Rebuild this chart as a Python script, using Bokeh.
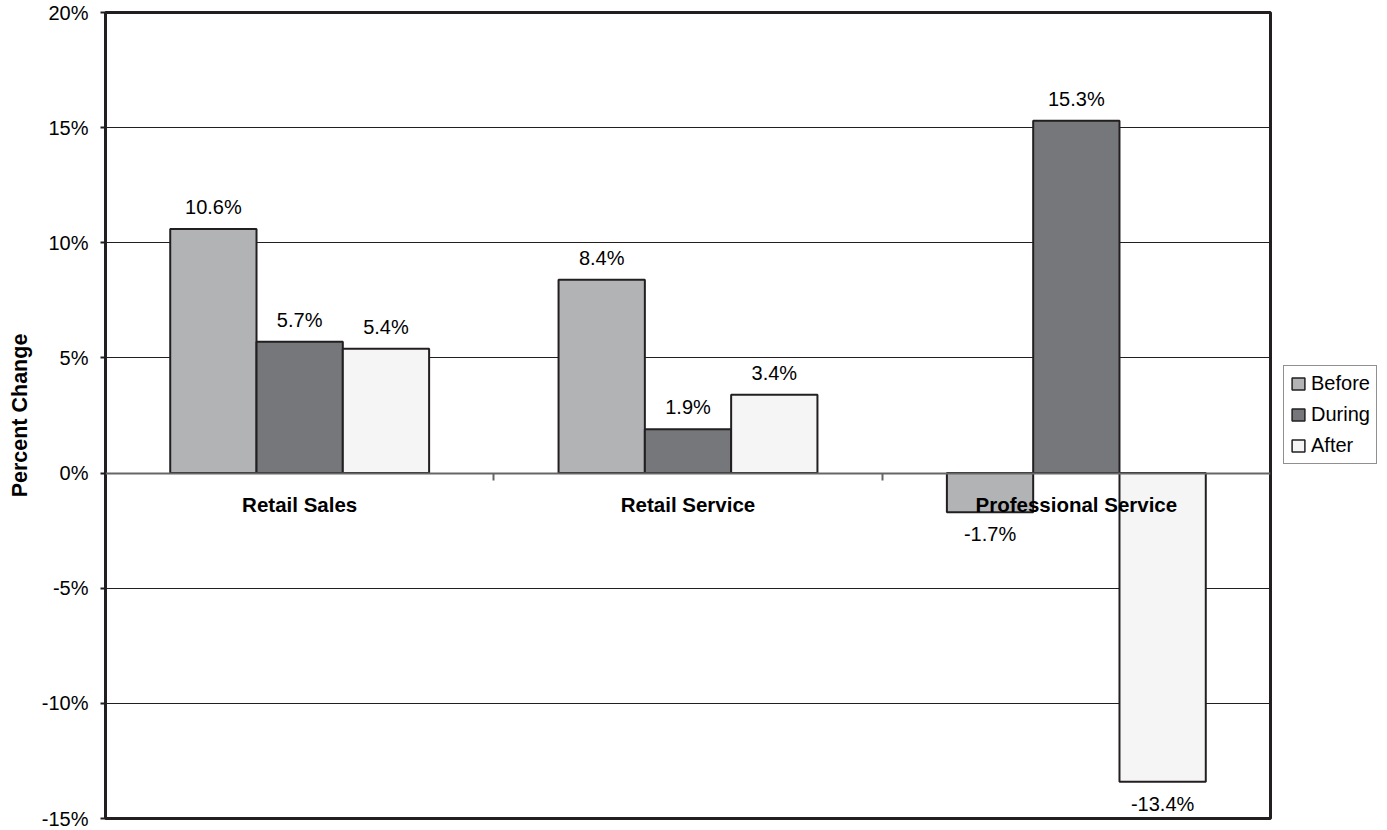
from bokeh.plotting import figure
from bokeh.layouts import row
from bokeh.models import (Range1d, FixedTicker, PrintfTickFormatter, Legend,
                          LegendItem, ColumnDataSource)
from bokeh.core.properties import value
from bokeh.embed import file_html
from bokeh.resources import INLINE

# ---- data ----
categories = ["Retail Sales", "Retail Service", "Professional Service"]
series_names = ["Before", "During", "After"]
before = [10.6, 8.4, -1.7]
during = [5.7, 1.9, 15.3]
after = [5.4, 3.4, -13.4]
y_ticks = [-15, -10, -5, 0, 5, 10, 15, 20]

# ---- styles ----
FONT = "Liberation Sans"
DARK = "#231f20"
colors = ["#b2b3b5", "#76777b", "#f5f5f5"]
n = len(categories)
w = 1 / 4.5  # bar width (Excel gap width 150%)

p = figure(width=1272, height=830,
           x_range=Range1d(0, n), y_range=Range1d(y_ticks[0], y_ticks[-1]),
           output_backend="svg", toolbar_location=None,
           min_border_left=105, min_border_right=2,
           min_border_top=12, min_border_bottom=12)
p.background_fill_color = "white"
p.border_fill_color = "white"
p.outline_line_color = DARK
p.outline_line_width = 3

# grid
p.xgrid.visible = False
p.ygrid.ticker = FixedTicker(ticks=y_ticks)
p.ygrid.grid_line_color = DARK
p.ygrid.grid_line_width = 1

# y axis
yax = p.yaxis[0]
yax.ticker = FixedTicker(ticks=y_ticks)
yax.formatter = PrintfTickFormatter(format="%d%%")
yax.axis_line_color = None
yax.major_tick_out = 5
yax.major_tick_in = 0
yax.major_tick_line_color = DARK
yax.major_tick_line_width = 2
yax.minor_tick_line_color = None
yax.major_label_text_font = FONT
yax.major_label_text_font_size = "20px"
yax.major_label_text_color = "black"
yax.major_label_standoff = 12
yax.axis_label = "Percent Change"
yax.axis_label_text_font = FONT
yax.axis_label_text_font_size = "21.5px"
yax.axis_label_text_font_style = "bold"
yax.axis_label_text_color = "black"
yax.axis_label_standoff = 7

# x axis drawn along zero line
xax = p.xaxis[0]
xax.fixed_location = 0
xax.ticker = FixedTicker(ticks=[i + 0.5 for i in range(n)],
                         minor_ticks=[i for i in range(1, n)])
xax.major_label_overrides = {i + 0.5: c for i, c in enumerate(categories)}
xax.axis_line_color = "#666666"
xax.axis_line_width = 2
xax.major_tick_out = 0
xax.major_tick_in = 0
xax.major_tick_line_color = None
xax.minor_tick_out = 7
xax.minor_tick_in = 0
xax.minor_tick_line_color = "#666666"
xax.minor_tick_line_width = 2
xax.major_label_text_font = FONT
xax.major_label_text_font_size = "20.5px"
xax.major_label_text_font_style = "bold"
xax.major_label_text_color = "black"
xax.major_label_standoff = 13

# legend-only companion figure (legend sits outside the plot frame)
pl = figure(width=115, height=830, x_range=Range1d(0, 1), y_range=Range1d(0, 1),
            output_backend="svg", toolbar_location=None,
            x_axis_type=None, y_axis_type=None, min_border=0)
pl.outline_line_color = None
pl.grid.visible = False
pl.background_fill_color = "white"
pl.border_fill_color = "white"

# bars
legend_items = []
for j, (name, vals, col) in enumerate(zip(series_names, [before, during, after], colors)):
    xs = [i + 0.5 + (j - 1) * w for i in range(n)]
    src = ColumnDataSource(dict(x=xs, top=vals))
    p.vbar(x="x", top="top", bottom=0, width=w, source=src,
           fill_color=col, line_color=DARK, line_width=2)
    # hidden proxy renderer (same data) in companion figure, used for the legend swatch
    lr = pl.vbar(x="x", top="top", bottom=0, width=w, source=src,
                 fill_color=col, line_color=DARK, line_width=1.5, visible=False)
    legend_items.append(LegendItem(label=name, renderers=[lr]))

    pos = [(x, v, f"{v:.1f}%") for x, v in zip(xs, vals) if v >= 0]
    neg = [(x, v, f"{v:.1f}%") for x, v in zip(xs, vals) if v < 0]
    if pos:
        ps = ColumnDataSource(dict(x=[a[0] for a in pos], y=[a[1] for a in pos],
                                   t=[a[2] for a in pos]))
        p.text(x="x", y="y", text="t", source=ps, text_align="center",
               text_baseline="bottom", y_offset=-11,
               text_font=value(FONT), text_font_size="20px", text_color="black")
    if neg:
        ns = ColumnDataSource(dict(x=[a[0] for a in neg], y=[a[1] for a in neg],
                                   t=[a[2] for a in neg]))
        p.text(x="x", y="y", text="t", source=ns, text_align="center",
               text_baseline="top", y_offset=11,
               text_font=value(FONT), text_font_size="20px", text_color="black")

legend = Legend(items=legend_items, location=(11, 354))
legend.click_policy = "none"
legend.border_line_color = DARK
legend.border_line_width = 1
legend.background_fill_color = "white"
legend.label_text_font = FONT
legend.label_text_font_size = "20px"
legend.label_text_color = "black"
legend.glyph_width = 16
legend.glyph_height = 15
legend.label_standoff = 5
legend.label_height = 23
legend.spacing = 8
legend.padding = 6
legend.margin = 0
pl.add_layout(legend)

layout = row(p, pl, spacing=0)
open("out.html", "w").write(file_html(layout, INLINE))
